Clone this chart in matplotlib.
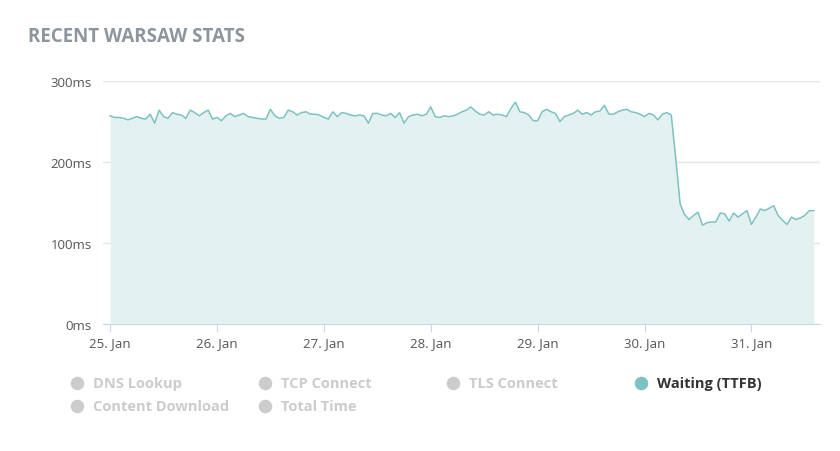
import matplotlib
matplotlib.use("Agg")
import matplotlib.pyplot as plt
import matplotlib.dates as mdates
import pandas as pd

# hourly "Waiting (TTFB)" values in ms, starting 25 Jan 00:00
ttfb_ms = [
    # 25 Jan
    257, 255, 255, 254, 252, 254, 256, 254, 253, 259, 248, 264,
    256, 254, 261, 259, 258, 254, 264, 261, 257, 261, 264, 253,
    # 26 Jan
    255, 251, 257, 260, 256, 258, 260, 256, 255, 254, 253, 253,
    265, 257, 254, 255, 264, 262, 258, 261, 262, 259, 259, 258,
    # 27 Jan
    255, 253, 262, 256, 261, 260, 258, 257, 258, 257, 248, 260,
    260, 258, 257, 260, 255, 261, 248, 256, 258, 259, 257, 259,
    # 28 Jan
    268, 256, 255, 257, 256, 257, 259, 262, 264, 268, 263, 259,
    258, 262, 258, 259, 258, 256, 266, 274, 262, 261, 258, 251,
    # 29 Jan
    251, 262, 265, 262, 260, 250, 256, 258, 260, 264, 259, 261,
    258, 262, 263, 270, 259, 259, 262, 264, 265, 262, 261, 259,
    # 30 Jan
    256, 260, 258, 252, 259, 261, 258, 205, 148, 135, 129, 134,
    138, 122, 125, 126, 126, 137, 136, 127, 137, 132, 136, 140,
    # 31 Jan
    123, 132, 142, 140, 143, 146, 134, 128, 123, 132, 129, 131,
    134, 140, 140,
]
y_ticks = [0, 100, 200, 300]
y_labels = ["0ms", "100ms", "200ms", "300ms"]
legend_names = ["DNS Lookup", "TCP Connect", "TLS Connect", "Waiting (TTFB)",
                "Content Download", "Total Time"]
legend_active = [False, False, False, True, False, False]

times = pd.date_range("2024-01-25 00:00", periods=len(ttfb_ms), freq="h")

W, H = 840, 452
fig = plt.figure(figsize=(W / 100, H / 100), dpi=100)
plt.rcParams["font.family"] = ["Open Sans", "DejaVu Sans"]

ax = fig.add_axes([103 / W, 1 - 325 / H, (820 - 103) / W, (325 - 82) / H])
line_color = "#7cc2c2"
ax.fill_between(times, ttfb_ms, 0, color="#e4f1f1", lw=0)
ax.plot(times, ttfb_ms, color=line_color, lw=1.1)

ax.set_ylim(0, 300)
ax.set_xlim(times[0] - pd.Timedelta(hours=1.6), times[0] + pd.Timedelta(hours=159.4))
ax.set_yticks(y_ticks)
ax.set_yticklabels(y_labels)
ax.xaxis.set_major_locator(mdates.DayLocator())
ax.xaxis.set_major_formatter(mdates.DateFormatter("%d. %b"))

ax.grid(axis="y", color="#e6e6e6", lw=1)
ax.set_axisbelow(True)
for side in ["top", "right", "left"]:
    ax.spines[side].set_visible(False)
ax.spines["bottom"].set_color("#ccd6eb")
ax.tick_params(axis="y", length=0, pad=8, labelsize=9.5, labelcolor="#555555")
ax.tick_params(axis="x", length=6, color="#ccd6eb", pad=3, labelsize=9.5,
               labelcolor="#555555")

fig.text(28 / W, 1 - 37 / H, "RECENT WARSAW STATS", fontsize=13.5, fontweight="bold",
         color="#8c969e", va="center", ha="left")

# legend drawn by hand in pixel coordinates
lax = fig.add_axes([0, 0, 1, 1])
lax.set_xlim(0, W)
lax.set_ylim(H, 0)
lax.axis("off")
col_x = [77, 265, 453, 641]
row_y = [384, 407]
for i, name in enumerate(legend_names):
    cx = col_x[i % 4]
    cy = row_y[i // 4]
    active = legend_active[i]
    lax.scatter([cx], [cy], s=95, color=line_color if active else "#cccccc", lw=0)
    lax.text(cx + 16, cy, name, fontsize=10.5, fontweight="bold",
             color="#333333" if active else "#cccccc", va="center", ha="left",
             fontstretch="condensed")

fig.savefig("out.png", dpi=100)
